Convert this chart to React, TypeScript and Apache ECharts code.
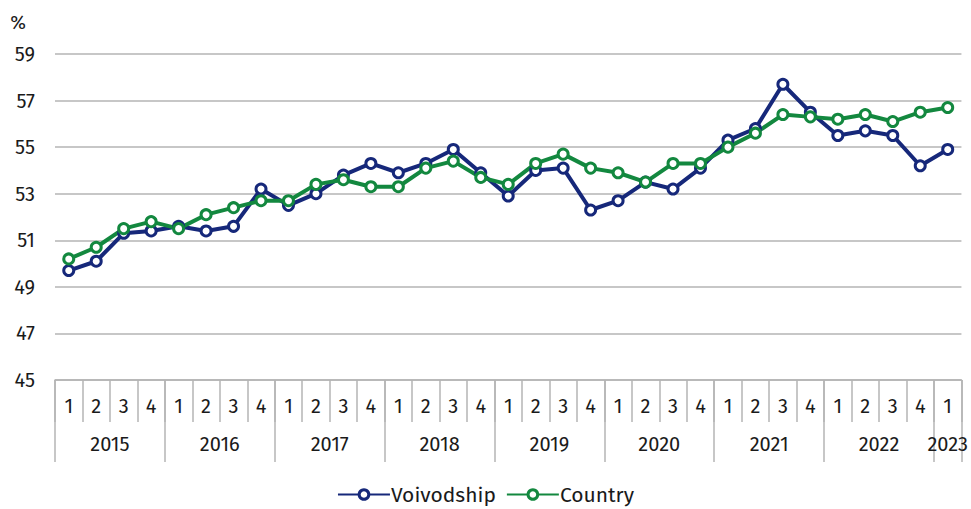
import React, { useEffect, useRef } from "react";
import * as echarts from "echarts";

const years = ["2015", "2016", "2017", "2018", "2019", "2020", "2021", "2022", "2023"];
const quartersPerYear = [4, 4, 4, 4, 4, 4, 4, 4, 1];
const quarterNames = ["1", "2", "3", "4"];

const voivodship = [
  49.7, 50.1, 51.3, 51.4,
  51.6, 51.4, 51.6, 53.2,
  52.5, 53.0, 53.8, 54.3,
  53.9, 54.3, 54.9, 53.9,
  52.9, 54.0, 54.1, 52.3,
  52.7, 53.5, 53.2, 54.1,
  55.3, 55.8, 57.7, 56.5,
  55.5, 55.7, 55.5, 54.2,
  54.9,
];
const country = [
  50.2, 50.7, 51.5, 51.8,
  51.5, 52.1, 52.4, 52.7,
  52.7, 53.4, 53.6, 53.3,
  53.3, 54.1, 54.4, 53.7,
  53.4, 54.3, 54.7, 54.1,
  53.9, 53.5, 54.3, 54.3,
  55.0, 55.6, 56.4, 56.3,
  56.2, 56.4, 56.1, 56.5,
  56.7,
];

const yMin = 45;
const yMax = 59;
const yStep = 2;

const FONT = "'Fira Sans', 'Open Sans', 'Noto Sans', sans-serif";
const TEXT = "#1a1a1a";
const GRAY = "#b4b4b4";
const NAVY = "#16287a";
const GREEN = "#13883f";

export default function App() {
  const ref = useRef<HTMLDivElement>(null);

  useEffect(() => {
    if (!ref.current) return;
    const chart = echarts.init(ref.current, undefined, { renderer: "svg" });

    const quarterCats: string[] = [];
    const yearStarts: number[] = [];
    years.forEach((y, i) => {
      yearStarts.push(quarterCats.length);
      for (let q = 0; q < quartersPerYear[i]; q++) quarterCats.push(quarterNames[q]);
    });
    const n = quarterCats.length;
    const yearSlots: string[] = new Array(2 * n + 1).fill("");
    const tickSlots = new Set<number>();
    years.forEach((y, i) => {
      yearSlots[2 * yearStarts[i] + quartersPerYear[i]] = y;
      tickSlots.add(2 * yearStarts[i]);
    });
    tickSlots.add(2 * n);

    const mkSeries = (name: string, data: number[], color: string) => ({
      name,
      type: "line",
      data,
      xAxisIndex: 0,
      symbol: "circle",
      symbolSize: 10,
      showSymbol: true,
      lineStyle: { color, width: 4 },
      itemStyle: { color: "#ffffff", borderColor: color, borderWidth: 3 },
      emphasis: { disabled: true },
    });

    chart.setOption({
      animation: false,
      grid: { left: 55, right: 9, top: 54, bottom: 129, containLabel: false },
      legend: {
        bottom: -1,
        left: "center",
        itemWidth: 52,
        itemHeight: 12,
        itemGap: 10,
        textStyle: { fontFamily: FONT, fontSize: 21, color: TEXT, padding: [0, 0, 0, -4] },
        data: [
          { name: "Voivodship", itemStyle: { color: "#ffffff", borderColor: NAVY, borderWidth: 3 } },
          { name: "Country", itemStyle: { color: "#ffffff", borderColor: GREEN, borderWidth: 3 } },
        ],
      },
      xAxis: [
        {
          type: "category",
          data: quarterCats,
          boundaryGap: true,
          position: "bottom",
          axisLine: { show: true, lineStyle: { color: GRAY, width: 1.5 } },
          axisTick: { show: true, interval: 0, length: 42, lineStyle: { color: GRAY, width: 1.5 } },
          axisLabel: { interval: 0, margin: 16, fontFamily: FONT, fontSize: 20, color: TEXT },
          splitLine: { show: false },
        },
        {
          type: "category",
          data: yearSlots,
          boundaryGap: false,
          position: "bottom",
          axisLine: { show: false },
          axisTick: {
            show: true,
            interval: (idx: number) => tickSlots.has(idx),
            length: 82,
            lineStyle: { color: GRAY, width: 1.5 },
          },
          axisLabel: {
            interval: 0,
            margin: 54,
            fontFamily: FONT,
            fontSize: 20,
            color: TEXT,
            showMinLabel: true,
            showMaxLabel: true,
          },
          splitLine: { show: false },
        },
      ],
      yAxis: {
        type: "value",
        min: yMin,
        max: yMax,
        interval: yStep,
        name: "%",
        nameLocation: "end",
        nameGap: 22,
        nameTextStyle: { fontFamily: FONT, fontSize: 19, color: TEXT, align: "right", padding: [0, 29, 0, 0] },
        axisLine: { show: false },
        axisTick: { show: false },
        axisLabel: { margin: 20, fontFamily: FONT, fontSize: 20, color: TEXT },
        splitLine: { show: true, lineStyle: { color: GRAY, width: 1.5 } },
      },
      series: [
        mkSeries("Voivodship", voivodship, NAVY),
        mkSeries("Country", country, GREEN),
      ],
    });

    return () => chart.dispose();
  }, []);

  return <div ref={ref} style={{ width: 971, height: 509, position: "absolute", left: 0, top: 0 }} />;
}
